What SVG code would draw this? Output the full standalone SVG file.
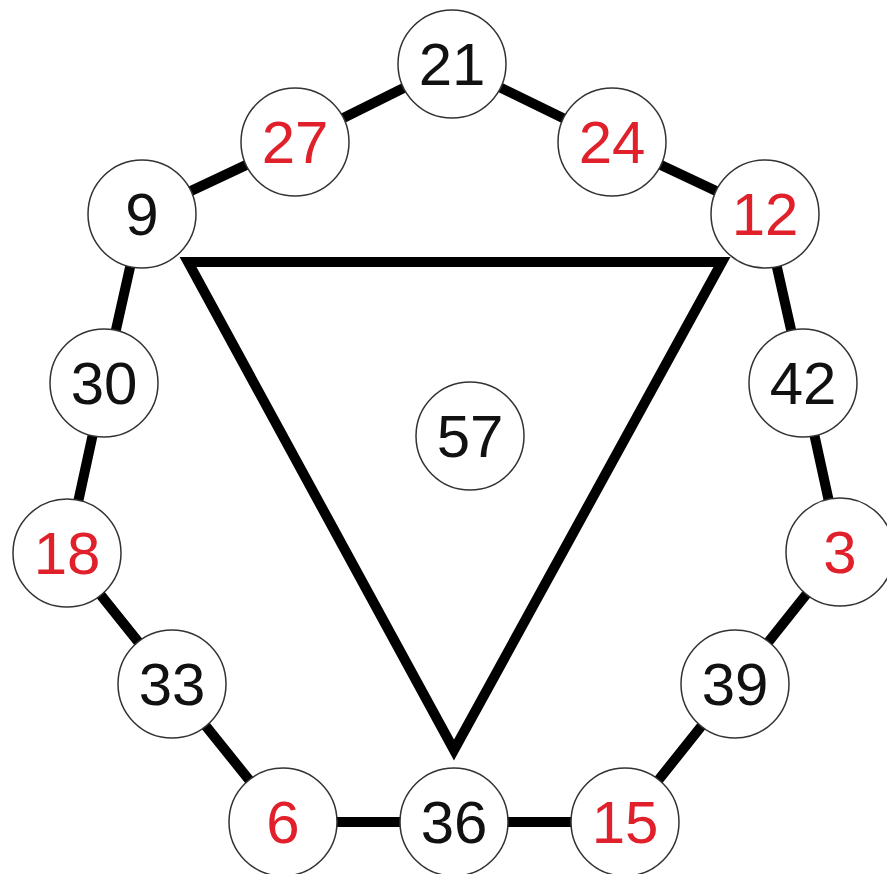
<svg xmlns="http://www.w3.org/2000/svg" width="887" height="874" viewBox="0 0 887 874">
<style>
.edge{stroke:#000;stroke-width:10;fill:none}
.tri{stroke:#000;stroke-width:10;fill:none;stroke-linejoin:miter}
.n circle{fill:#fff;stroke:#333;stroke-width:1.5}
.n text{font-family:"Liberation Sans",Arial,sans-serif;font-size:60px;text-anchor:middle}
.k{fill:#111}
.r{fill:#e0202a}
</style>
<rect width="887" height="874" fill="#fff"/>
<g id="connectors">
<polyline class="edge" points="452,64 295,142 142,214 104,383 67,553 172,684 283,822 454,822 625,822 735,684 840,552 803,383 765,214 612,142 452,64"/>
<polygon class="tri" points="188,262 722,262 454,750"/>
</g>
<g id="n21" class="n"><circle cx="452" cy="64" r="54"/><text class="k" x="452" y="85">21</text></g>
<g id="n27" class="n"><circle cx="295" cy="142" r="54"/><text class="r" x="295" y="163">27</text></g>
<g id="n24" class="n"><circle cx="612" cy="142" r="54"/><text class="r" x="612" y="163">24</text></g>
<g id="n9" class="n"><circle cx="142" cy="214" r="54"/><text class="k" x="142" y="235">9</text></g>
<g id="n12" class="n"><circle cx="765" cy="214" r="54"/><text class="r" x="765" y="235">12</text></g>
<g id="n30" class="n"><circle cx="104" cy="383" r="54"/><text class="k" x="104" y="404">30</text></g>
<g id="n42" class="n"><circle cx="803" cy="383" r="54"/><text class="k" x="803" y="404">42</text></g>
<g id="n57" class="n"><circle cx="470" cy="436" r="54"/><text class="k" x="470" y="457">57</text></g>
<g id="n18" class="n"><circle cx="67" cy="553" r="54"/><text class="r" x="67" y="574">18</text></g>
<g id="n3" class="n"><circle cx="840" cy="552" r="54"/><text class="r" x="840" y="573">3</text></g>
<g id="n33" class="n"><circle cx="172" cy="684" r="54"/><text class="k" x="172" y="705">33</text></g>
<g id="n39" class="n"><circle cx="735" cy="684" r="54"/><text class="k" x="735" y="705">39</text></g>
<g id="n6" class="n"><circle cx="283" cy="822" r="54"/><text class="r" x="283" y="843">6</text></g>
<g id="n36" class="n"><circle cx="454" cy="822" r="54"/><text class="k" x="454" y="843">36</text></g>
<g id="n15" class="n"><circle cx="625" cy="822" r="54"/><text class="r" x="625" y="843">15</text></g>
</svg>
